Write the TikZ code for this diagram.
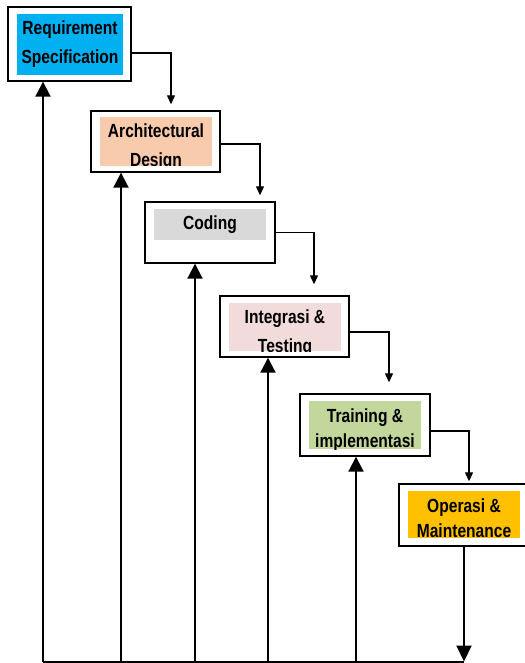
\documentclass[tikz,border=0pt]{standalone}
\usepackage{fontspec}
\setmainfont{Liberation Sans}[FakeStretch=0.82]
\usetikzlibrary{arrows.meta}

\definecolor{reqblue}{HTML}{00B0F0}
\definecolor{archpeach}{HTML}{F8CBAD}
\definecolor{codegrey}{HTML}{D9D9D9}
\definecolor{integpink}{HTML}{F2DCDB}
\definecolor{traingreen}{HTML}{C3D69B}
\definecolor{operorange}{HTML}{FFC000}

\tikzset{
	stagebox/.style={draw, line width=1.4pt, fill=white, inner sep=0pt},
	stagetext/.style={font=\bfseries\fontsize{19}{29}\selectfont, anchor=base, inner sep=0pt},
	steparrow/.style={-{Triangle[width=8pt,length=9pt]}, line width=1.2pt},
	riser/.style={-{Triangle[width=15pt,length=15pt]}, line width=2pt},
	sinker/.style={-{Triangle[width=15pt,length=16pt]}, line width=2pt}
}

\begin{document}
\begin{tikzpicture}[x=1pt, y=-1pt]
	\useasboundingbox (0,0) rectangle (524,663);

	\node[stagebox, minimum width=123pt, minimum height=74pt] (req) at (69.5,44) {};
	\node[stagebox, minimum width=129pt, minimum height=61pt] (arch) at (155.5,141.5) {};
	\node[stagebox, minimum width=130pt, minimum height=61pt] (coding) at (210,232.5) {};
	\node[stagebox, minimum width=129pt, minimum height=61pt] (integ) at (284.5,326.5) {};
	\node[stagebox, minimum width=130pt, minimum height=62pt] (train) at (365,425) {};
	\node[stagebox, minimum width=130pt, minimum height=62pt] (oper) at (464,515) {};

	\begin{scope}
		\clip (17,14) rectangle (123,75);
		\fill[reqblue] (17,14) rectangle (123,75);
		\node[stagetext] (reqtext) at (70,35) {\begin{tabular}[t]{@{}c@{}}Requirement\\Specification\end{tabular}};
	\end{scope}
	\begin{scope}
		\clip (100,117) rectangle (212,166);
		\fill[archpeach] (100,117) rectangle (212,166);
		\node[stagetext] (archtext) at (156,138) {\begin{tabular}[t]{@{}c@{}}Architectural\\Design\end{tabular}};
	\end{scope}
	\begin{scope}
		\clip (154,209) rectangle (266,240);
		\fill[codegrey] (154,209) rectangle (266,240);
		\node[stagetext] (codingtext) at (210,229) {Coding};
	\end{scope}
	\begin{scope}
		\clip (229,303) rectangle (341,351);
		\fill[integpink] (229,303) rectangle (341,351);
		\node[stagetext] (integtext) at (285,323) {\begin{tabular}[t]{@{}c@{}}Integrasi \&\\Testing\end{tabular}};
	\end{scope}
	\begin{scope}
		\clip (309,401) rectangle (421,449);
		\fill[traingreen] (309,401) rectangle (421,449);
		\node[stagetext, font=\bfseries\fontsize{19}{25}\selectfont] (traintext) at (365,422) {\begin{tabular}[t]{@{}c@{}}Training \&\\implementasi\end{tabular}};
	\end{scope}
	\begin{scope}
		\clip (408,491) rectangle (520,538);
		\fill[operorange] (408,491) rectangle (520,538);
		\node[stagetext, font=\bfseries\fontsize{19}{25}\selectfont] (opertext) at (464,512) {\begin{tabular}[t]{@{}c@{}}Operasi \&\\Maintenance\end{tabular}};
	\end{scope}

	\draw[steparrow] ([yshift=-9pt]req.east) -| ([xshift=15.5pt,yshift=6pt]arch.north);
	\draw[steparrow] ([yshift=-2.5pt]arch.east) -| ([xshift=50pt,yshift=6pt]coding.north);
	\draw[steparrow] (coding.east) -| ([xshift=29.5pt,yshift=11pt]integ.north);
	\draw[steparrow] ([yshift=-5.5pt]integ.east) -| ([xshift=24pt,yshift=11pt]train.north);
	\draw[steparrow] ([yshift=-6pt]train.east) -| ([xshift=5pt,yshift=2pt]oper.north);

	\coordinate (foot) at (43,661.5);
	\foreach \n/\x in {req/43,arch/121,coding/195,integ/268,train/356}
		\draw[riser] (\x,661.5) -- (\x,661.5 |- \n.south);
	\draw[line width=2pt] (foot) -- (oper.south |- foot);
	\draw[sinker] (oper.south) -- (oper.south |- foot);
\end{tikzpicture}
\end{document}
